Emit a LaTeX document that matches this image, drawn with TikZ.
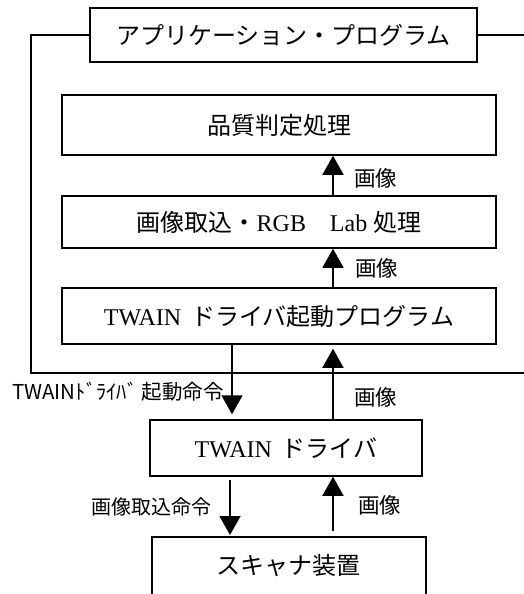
\documentclass[tikz,border=0pt]{standalone}
\usepackage{fontspec}
\setmainfont{Liberation Serif}
\newfontfamily\jp{Noto Sans CJK JP}
\usetikzlibrary{arrows.meta}
\begin{document}
\begin{tikzpicture}[x=1pt,y=-1pt,
  box/.style={draw,line width=1.5pt,inner sep=0pt,font=\fontsize{24}{28}\selectfont},
  arr/.style={line width=1.5pt,-{Triangle[width=21pt,length=19pt]}},
  lbl/.style={font=\jp\fontsize{21.5}{24}\selectfont,inner sep=0pt},
  ln/.style={line width=1.5pt}]
\useasboundingbox (0,0) rectangle (524,594);
\coordinate (ax) at (333,0);
\coordinate (bx) at (232,0);
\coordinate (cx) at (230,0);
\node[box,minimum width=387pt,minimum height=54pt] (app) at (283.5,35) {\jp アプリケーション・プログラム};
\node[box,minimum width=434pt,minimum height=60pt] (qual) at (279,125) {\jp 品質判定処理};
\node[box,minimum width=434pt,minimum height=52pt] (imgp) at (279,222) {{\jp 画像取込・}RGB\quad Lab {\jp 処理}};
\node[box,minimum width=434pt,minimum height=56pt] (tdp) at (279,316) {TWAIN\, {\jp ドライバ起動プログラム}};
\node[box,minimum width=272pt,minimum height=56pt] (drv) at (286,448) {TWAIN\, {\jp ドライバ}};
\node[font=\jp\fontsize{24}{28}\selectfont,inner sep=0pt] (scan) at (288,565) {スキャナ装置};
\coordinate (scl) at (152,537);
\coordinate (scr) at (426,537);
\draw[ln] (152,600) -- (scl) -- (scr) -- (426,600);
% outer frame
\draw[ln] (app.west) -- (31,35) -- (31,373) -- (526,373);
\draw[ln] (app.east) -- (526,35);
% arrows
\draw[arr] (imgp.north -| ax) -- (qual.south -| ax);
\draw[arr] (tdp.north -| ax) -- (imgp.south -| ax);
\draw[arr,shorten >=5pt] (tdp.south -| bx) -- (drv.north -| bx);
\draw[arr,shorten >=4pt] (drv.north -| ax) -- (tdp.south -| ax);
\draw[arr,shorten <=3pt,shorten >=2pt] (drv.south -| cx) -- (scl -| cx);
\draw[arr,shorten <=6pt] (scl -| ax) -- (drv.south -| ax);
% labels
\node[lbl,anchor=west] (l1) at (354,178) {画像};
\node[lbl,anchor=west] (l2) at (355,268) {画像};
\node[lbl,anchor=west,font=\jp\fontsize{20.5}{22}\selectfont] (l3) at (12,392) {TWAINﾄﾞﾗｲﾊﾞ 起動命令};
\node[lbl,anchor=west] (l4) at (354,397) {画像};
\node[lbl,anchor=east,font=\jp\fontsize{20}{22}\selectfont] (l5) at (212,507) {画像取込命令};
\node[lbl,anchor=west] (l6) at (358,505) {画像};
\end{tikzpicture}
\end{document}
